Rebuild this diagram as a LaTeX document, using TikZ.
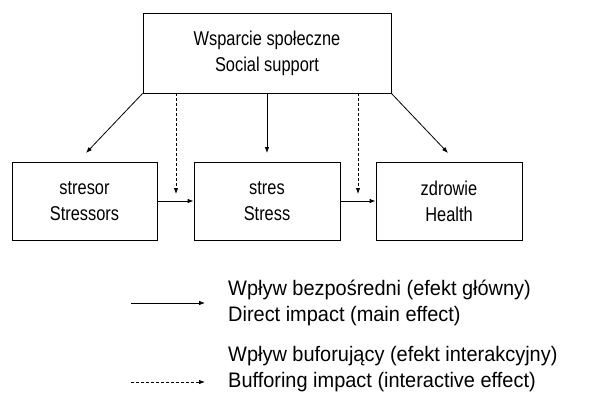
\documentclass[tikz,border=0pt]{standalone}
\usepackage{fontspec}
\setmainfont{Liberation Sans}[FakeStretch=0.82]
\newfontfamily\legendfont{Liberation Sans}[FakeStretch=0.95]
\usetikzlibrary{arrows.meta}

\begin{document}
\begin{tikzpicture}[x=1pt,y=-1pt,
  box/.style={draw, line width=0.8pt, align=center, inner sep=0pt,
    font=\fontsize{20}{26}\selectfont},
  direct/.style={line width=0.8pt, -{Latex[length=6pt,width=4.5pt]}},
  buffer/.style={direct, dash pattern=on 2.5pt off 2.5pt},
  legend/.style={anchor=west, align=left, inner sep=0pt,
    font=\legendfont\fontsize{21}{26}\selectfont}]

  \useasboundingbox (0,0) rectangle (616,397);

  % top box
  \node [box, minimum width=248pt, minimum height=80pt] (support) at (267,53)
    {Wsparcie społeczne\\Social support};

  % bottom boxes
  \node [box, minimum width=145pt, minimum height=78pt] (stressor) at (84.5,201)
    {stresor\\Stressors};
  \node [box, minimum width=146pt, minimum height=78pt] (stress) at (267,201)
    {stres\\Stress};
  \node [box, minimum width=146pt, minimum height=78pt] (health) at (449,201)
    {zdrowie\\Health};

  % free ends of the arrows
  \coordinate (toStressor) at (86,153);
  \coordinate (toHealth) at (448,153);
  \coordinate (bufA) at (176,93);
  \coordinate (bufAend) at (176,194);
  \coordinate (bufB) at (358,93);
  \coordinate (bufBend) at (358,194);

  % direct effects
  \draw [direct] (support.south west) -- (toStressor);
  \draw [direct] (support.south) -- (stress.north |- toStressor);
  \draw [direct] (support.south east) -- (toHealth);
  \draw [direct] (stressor.east) -- (stress.west);
  \draw [direct] (stress.east) -- (health.west);

  % buffering effects
  \draw [buffer] (bufA) -- (bufAend);
  \draw [buffer] (bufB) -- (bufBend);

  % legend
  \coordinate (solidA) at (131,303);
  \coordinate (solidB) at (205,303);
  \coordinate (dashA) at (131,382);
  \coordinate (dashB) at (205,382);
  \draw [direct] (solidA) -- (solidB);
  \draw [buffer] (dashA) -- (dashB);
  \node [legend] (legDirect) at (228,303)
    {Wpływ bezpośredni (efekt główny)\\Direct impact (main effect)};
  \node [legend] (legBuffer) at (228,369)
    {Wpływ buforujący (efekt interakcyjny)\\Bufforing impact (interactive effect)};

\end{tikzpicture}
\end{document}
